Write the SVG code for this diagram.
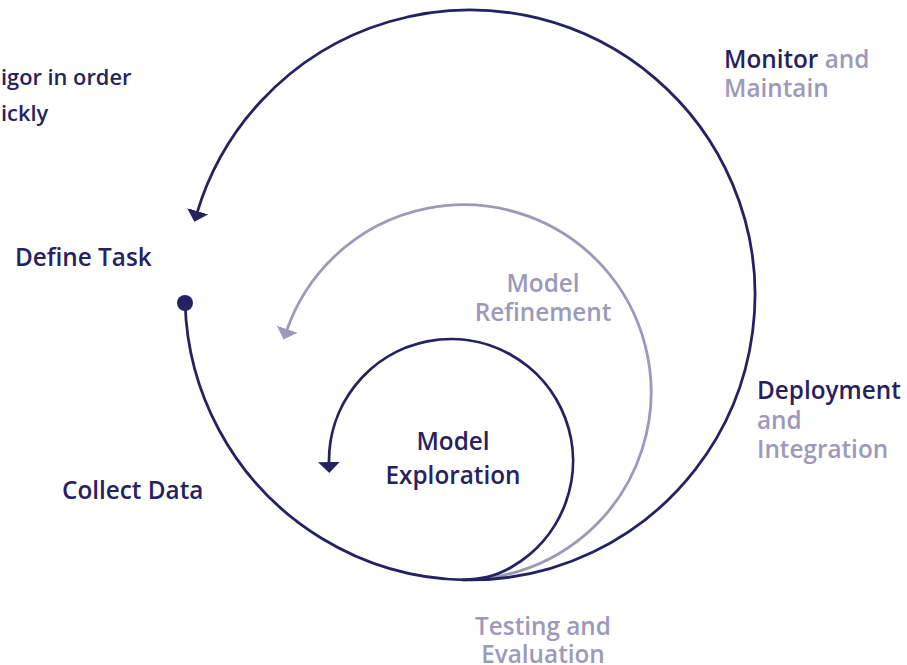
<svg xmlns="http://www.w3.org/2000/svg" width="907" height="665" viewBox="0 0 907 665">
  <style>
    text { font-family: "Open Sans", "Noto Sans", "Liberation Sans", sans-serif; font-weight: 600; font-size: 24.3px; }
    .dark { fill: #262261; }
    .light { fill: #9c99ba; }
    .mid { text-anchor: middle; }
    .small { font-size: 21.8px; }
    .loop { fill: none; stroke-width: 2.8; stroke-linecap: butt; }
    .loop-dark { stroke: #262261; }
    .loop-light { stroke: #9c99ba; }
  </style>
  <defs>
    <marker id="head-dark" markerUnits="userSpaceOnUse" markerWidth="12" markerHeight="23" refX="3" refY="11" orient="auto">
      <path d="M0,0 L11,11 L0,22 Z" fill="#262261"/>
    </marker>
    <marker id="head-light" markerUnits="userSpaceOnUse" markerWidth="12" markerHeight="23" refX="3" refY="11" orient="auto">
      <path d="M0,0 L11,11 L0,22 Z" fill="#9c99ba"/>
    </marker>
  </defs>

  <!-- spiral loops -->
  <g id="connectors">
    <!-- refinement loop (drawn first so the dark loops sit on top) -->
    <path id="loop-refine" class="loop loop-light" marker-end="url(#head-light)"
          d="M470,579.9 C485,579.6 495,577.8 505,574.9 A187.4,187.4 0 1 0 286.2,332.0"/>
    <!-- exploration loop -->
    <path id="loop-explore" class="loop loop-dark" marker-end="url(#head-dark)"
          d="M462,579.8 C480,579.2 496,576.7 512,566.7 A122,122 0 1 0 329.07,465"/>
    <!-- full lifecycle loop -->
    <path id="loop-outer" class="loop loop-dark" marker-end="url(#head-dark)"
          d="M185.1,303 A285,285 0 1 0 196.7,214.1"/>
  </g>

  <g id="start-dot">
    <circle cx="185" cy="303" r="8" fill="#262261"/>
  </g>

  <g id="note">
    <text class="dark small" x="1" y="85">igor in order</text>
    <text class="dark small" x="1" y="121">ickly</text>
  </g>

  <g id="monitor">
    <text x="724" y="68"><tspan class="dark">Monitor</tspan><tspan class="light"> and</tspan></text>
    <text class="light" x="724" y="97">Maintain</text>
  </g>

  <g id="define-task">
    <text class="dark" x="15" y="266">Define Task</text>
  </g>

  <g id="model-refinement">
    <text class="light mid" x="543" y="292">Model</text>
    <text class="light mid" x="543" y="321">Refinement</text>
  </g>

  <g id="deployment">
    <text class="dark" x="757" y="399">Deployment</text>
    <text class="light" x="757" y="429">and</text>
    <text class="light" x="757" y="458">Integration</text>
  </g>

  <g id="model-exploration">
    <text class="dark mid" x="453" y="450">Model</text>
    <text class="dark mid" x="453" y="484">Exploration</text>
  </g>

  <g id="collect-data">
    <text class="dark" x="62" y="499">Collect Data</text>
  </g>

  <g id="testing">
    <text class="light mid" x="543" y="635">Testing and</text>
    <text class="light mid" x="543" y="663">Evaluation</text>
  </g>
</svg>
